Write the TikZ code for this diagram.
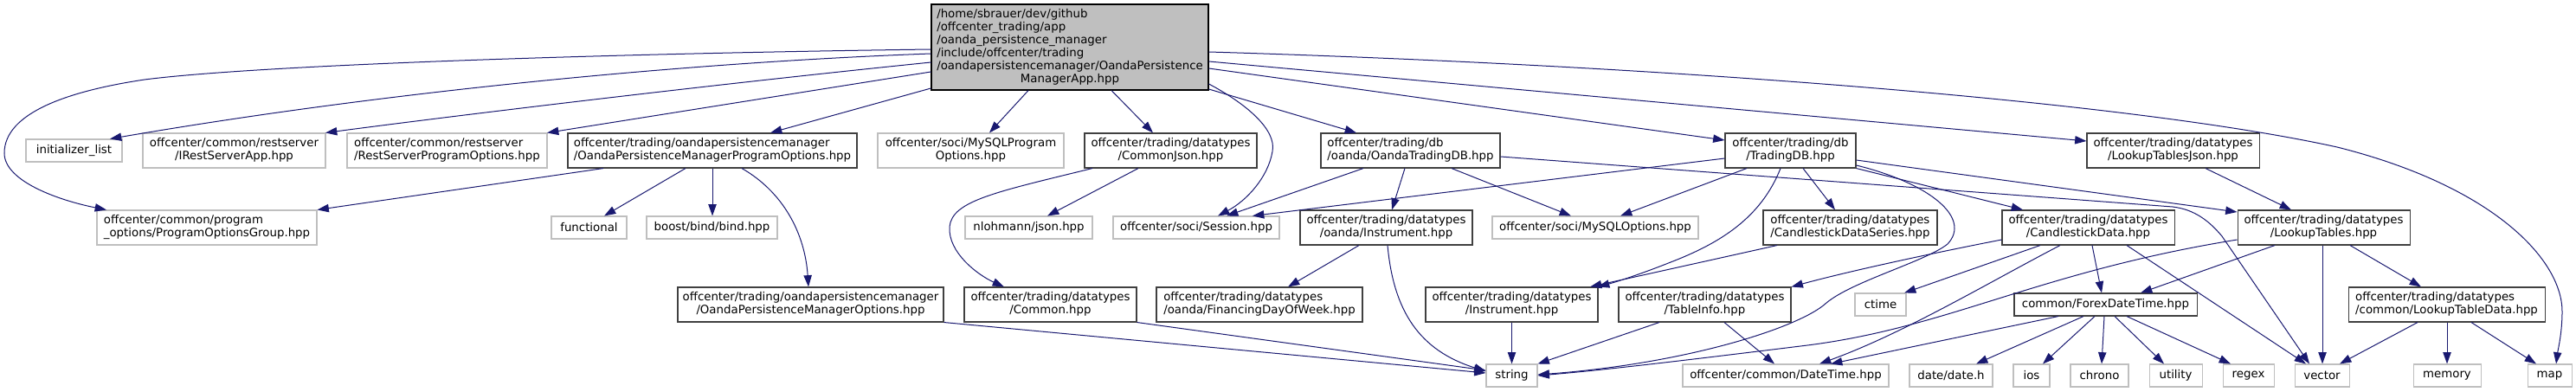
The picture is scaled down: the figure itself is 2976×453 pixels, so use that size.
\documentclass[tikz,border=0pt]{standalone}
\usepackage{fontspec}
\setmainfont{DejaVu Sans}
\usetikzlibrary{arrows.meta}
\definecolor{edgeblue}{HTML}{191970}
\definecolor{grayborder}{HTML}{BFBFBF}
\definecolor{darkborder}{HTML}{404040}
\definecolor{rootfill}{HTML}{BFBFBF}
\newcommand{\twoline}[2]{\begin{tabular}{@{}l@{}}#1\\\multicolumn{1}{@{}c@{}}{#2}\end{tabular}}
\begin{document}
\begin{tikzpicture}[x=0.75pt,y=-0.75pt,
  base/.style={rectangle, inner sep=0pt, fill=white, font=\fontsize{10}{11.25}\selectfont, line width=0.8pt},
  gsingle/.style={base, draw=grayborder, minimum width={#1*0.75pt}, minimum height=19.5pt},
  gdouble/.style={base, draw=grayborder, minimum width={#1*0.75pt}, minimum height=30pt},
  bsingle/.style={base, draw=darkborder, minimum width={#1*0.75pt}, minimum height=19.5pt},
  bdouble/.style={base, draw=darkborder, minimum width={#1*0.75pt}, minimum height=30pt},
  rootbox/.style={base, draw=black, fill=rootfill, minimum width=240pt, minimum height=74.25pt},
  edge/.style={draw=edgeblue, line width=0.75pt, -{Triangle[length=10pt,width=7pt]}}
]
\useasboundingbox (0,0) rectangle (2976,453);

% root
\node[rootbox] (root) at (1236,54.5) {\begin{tabular}{@{}l@{}}/home/sbrauer/dev/github\\/offcenter\_trading/app\\/oanda\_persistence\_manager\\/include/offcenter/trading\\/oandapersistencemanager/OandaPersistence\\\multicolumn{1}{@{}c@{}}{ManagerApp.hpp}\end{tabular}};

% row 1
\node[gsingle=111] (init) at (85.5,174) {initializer\_list};
\node[gdouble=211] (irest) at (270.5,174) {\twoline{offcenter/common/restserver}{/IRestServerApp.hpp}};
\node[gdouble=231] (rspo) at (516.5,174) {\twoline{offcenter/common/restserver}{/RestServerProgramOptions.hpp}};
\node[bdouble=334] (opmpo) at (823,174) {\twoline{offcenter/trading/oandapersistencemanager}{/OandaPersistenceManagerProgramOptions.hpp}};
\node[gdouble=215] (msqlpo) at (1121.5,174) {\twoline{offcenter/soci/MySQLProgram}{Options.hpp}};
\node[bdouble=199] (cjson) at (1352.5,174) {\twoline{offcenter/trading/datatypes}{/CommonJson.hpp}};
\node[bdouble=207] (otdb) at (1629.5,174) {\twoline{offcenter/trading/db}{/oanda/OandaTradingDB.hpp}};
\node[bdouble=151] (tdb) at (2068.5,174) {\twoline{offcenter/trading/db}{/TradingDB.hpp}};
\node[bdouble=199] (ltjson) at (2510.5,174) {\twoline{offcenter/trading/datatypes}{/LookupTablesJson.hpp}};

% row 2
\node[gdouble=254] (pog) at (239,263) {\twoline{offcenter/common/program}{\_options/ProgramOptionsGroup.hpp}};
\node[gsingle=87] (func) at (680.5,263) {functional};
\node[gsingle=151] (boost) at (822.5,263) {boost/bind/bind.hpp};
\node[gsingle=147] (nlohmann) at (1188.5,263) {nlohmann/json.hpp};
\node[gsingle=192] (session) at (1382,263) {offcenter/soci/Session.hpp};
\node[bdouble=199] (oinst) at (1601.5,263) {\twoline{offcenter/trading/datatypes}{/oanda/Instrument.hpp}};
\node[gsingle=238] (mysqlopt) at (1843,263) {offcenter/soci/MySQLOptions.hpp};
\node[bdouble=201] (cdseries) at (2137.5,263) {\twoline{offcenter/trading/datatypes}{/CandlestickDataSeries.hpp}};
\node[bdouble=199] (cdata) at (2412.5,263) {\twoline{offcenter/trading/datatypes}{/CandlestickData.hpp}};
\node[bdouble=199] (lookup) at (2684.5,263) {\twoline{offcenter/trading/datatypes}{/LookupTables.hpp}};

% row 3
\node[bdouble=307] (opmo) at (936.5,352) {\twoline{offcenter/trading/oandapersistencemanager}{/OandaPersistenceManagerOptions.hpp}};
\node[bdouble=199] (common) at (1213.5,352) {\twoline{offcenter/trading/datatypes}{/Common.hpp}};
\node[bdouble=238] (finday) at (1455,352) {\twoline{offcenter/trading/datatypes}{/oanda/FinancingDayOfWeek.hpp}};
\node[bdouble=199] (inst) at (1746.5,352) {\twoline{offcenter/trading/datatypes}{/Instrument.hpp}};
\node[bdouble=199] (tinfo) at (1969.5,352) {\twoline{offcenter/trading/datatypes}{/TableInfo.hpp}};
\node[gsingle=59] (ctime) at (2172.5,352) {ctime};
\node[bsingle=211] (forex) at (2432.5,352) {common/ForexDateTime.hpp};
\node[bdouble=227] (ltdata) at (2826.5,352) {\twoline{offcenter/trading/datatypes}{/common/LookupTableData.hpp}};

% row 4
\node[gsingle=59] (string) at (1746.5,434) {string};
\node[gsingle=238] (datetime) at (2063,434) {offcenter/common/DateTime.hpp};
\node[gsingle=96] (date) at (2254,434) {date/date.h};
\node[gsingle=42] (ios) at (2347,434) {ios};
\node[gsingle=67] (chrono) at (2425.5,434) {chrono};
\node[gsingle=61] (utility) at (2513.5,434) {utility};
\node[gsingle=59] (regex) at (2597.5,434) {regex};
\node[gsingle=63] (vector) at (2682.5,434) {vector};
\node[gsingle=78] (memory) at (2827,434) {memory};
\node[gsingle=51] (map) at (2945.5,434) {map};

% edges from root
\draw[edge] (root.west |- 0,57) .. controls (700,62) and (300,75) .. (167,92) .. controls (80,105) and (5,130) .. (5,177) .. controls (5,210) and (70,232) .. (pog.north -| 123,0);
\draw[edge] (root.west |- 0,62) .. controls (800,72) and (450,105) .. (init.north -| 127,0);
\draw[edge] (root.west |- 0,72) .. controls (800,100) and (500,137) .. (irest.north -| 376,0);
\draw[edge] (root.west |- 0,83) -- (rspo.north -| 632,0);
\draw[edge] (root.west |- 0,102) -- (opmpo.north -| 890,0);
\draw[edge] (root.south -| 1188,0) -- (msqlpo.north -| 1143,0);
\draw[edge] (root.south -| 1284,0) -- (cjson.north -| 1332,0);
\draw[edge] (root.east |- 0,97) .. controls (1440,120) and (1475,150) .. (1470,175) .. controls (1465,205) and (1440,232) .. (session.north -| 1407,0);
\draw[edge] (root.east |- 0,103) -- (otdb.north -| 1567,0);
\draw[edge] (root.east |- 0,79) -- (tdb.west |- 0,162);
\draw[edge] (root.east |- 0,71) -- (ltjson.west |- 0,163);
\draw[edge] (root.east |- 0,60) .. controls (1900,75) and (2450,115) .. (2700,170) .. controls (2880,215) and (2960,300) .. (2960,360) .. controls (2960,385) and (2955,405) .. (map.north -| 2953,0);

% OandaPersistenceManagerProgramOptions
\draw[edge] (opmpo.south -| 697,0) -- (pog.north east);
\draw[edge] (opmpo.south -| 792,0) -- (func.north -| 698,0);
\draw[edge] (opmpo.south -| 823,0) -- (boost.north -| 823,0);
\draw[edge] (opmpo.south -| 857,0) .. controls (905,222) and (930,270) .. (opmo.north -| 934,0);
\draw[edge] (opmo.south east) -- (string.west |- 0,431);

% CommonJson
\draw[edge] (cjson.south -| 1262,0) .. controls (1150,222) and (1100,232) .. (1097,262) .. controls (1095,292) and (1130,318) .. (common.north -| 1160,0);
\draw[edge] (cjson.south -| 1315,0) -- (nlohmann.north -| 1210,0);
\draw[edge] (common.south east) -- (string.west |- 0,428);

% OandaTradingDB
\draw[edge] (otdb.south -| 1575,0) -- (session.north -| 1417,0);
\draw[edge] (otdb.south -| 1623,0) -- (oinst.north -| 1608,0);
\draw[edge] (otdb.south -| 1677,0) -- (mysqlopt.north -| 1815,0);
\draw[edge] (otdb.east |- 0,181) -- (2510,239) .. controls (2535,242) and (2552,255) .. (2567,273) -- (vector.north -| 2668,0);

% oanda/Instrument
\draw[edge] (oinst.south -| 1570,0) -- (finday.north -| 1488,0);
\draw[edge] (oinst.south -| 1603,0) .. controls (1610,360) and (1640,405) .. (string.west |- 0,429);

% TradingDB
\draw[edge] (tdb.west |- 0,183) -- (session.north -| 1447,0);
\draw[edge] (tdb.south -| 2018,0) -- (mysqlopt.north -| 1872,0);
\draw[edge] (tdb.south -| 2057,0) .. controls (2035,250) and (1990,280) .. (1930,303) .. controls (1900,315) and (1870,325) .. (inst.north -| 1846,0);
\draw[edge] (tdb.south -| 2083,0) -- (cdseries.north -| 2120,0);
\draw[edge] (tdb.south east) -- (cdata.north -| 2337,0);
\draw[edge] (tdb.east |- 0,185) -- (lookup.west |- 0,245);
\draw[edge] (tdb.east |- 0,191) .. controls (2230,212) and (2278,252) .. (2250,282) .. controls (2225,302) and (2140,325) .. (2110,350) .. controls (2080,378) and (1950,420) .. (string.east |- 0,433);

% CandlestickDataSeries
\draw[edge] (cdseries.south -| 2053,0) -- (inst.north -| 1837,0);

% CandlestickData
\draw[edge] (cdata.west |- 0,277) .. controls (2220,295) and (2130,315) .. (tinfo.north east);
\draw[edge] (cdata.south -| 2357,0) -- (ctime.north -| 2200,0);
\draw[edge] (cdata.south -| 2380,0) .. controls (2300,325) and (2200,385) .. (datetime.north -| 2102,0);
\draw[edge] (cdata.south -| 2417,0) -- (forex.north -| 2428,0);
\draw[edge] (cdata.south -| 2457,0) -- (vector.north -| 2664,0);

% LookupTables
\draw[edge] (ltjson.south -| 2548,0) -- (lookup.north -| 2647,0);
\draw[edge] (lookup.west |- 0,277) .. controls (2350,315) and (2250,380) .. (2080,400) .. controls (1950,416) and (1850,428) .. (string.east |- 0,434);
\draw[edge] (lookup.south -| 2628,0) -- (forex.north -| 2473,0);
\draw[edge] (lookup.south -| 2683,0) -- (vector.north -| 2683,0);
\draw[edge] (lookup.south -| 2715,0) -- (ltdata.north -| 2797,0);

% LookupTableData
\draw[edge] (ltdata.south -| 2793,0) -- (vector.north -| 2703,0);
\draw[edge] (ltdata.south -| 2827,0) -- (memory.north -| 2827,0);
\draw[edge] (ltdata.south -| 2855,0) -- (map.north -| 2930,0);

% ForexDateTime
\draw[edge] (forex.south -| 2378,0) -- (datetime.north -| 2115,0);
\draw[edge] (forex.south -| 2407,0) -- (date.north -| 2283,0);
\draw[edge] (forex.south -| 2420,0) -- (ios.north -| 2360,0);
\draw[edge] (forex.south -| 2431,0) -- (chrono.north -| 2428,0);
\draw[edge] (forex.south -| 2443,0) -- (utility.north -| 2500,0);
\draw[edge] (forex.south -| 2457,0) -- (regex.north -| 2577,0);

% TableInfo / Instrument
\draw[edge] (tinfo.south -| 1917,0) -- (string.north east);
\draw[edge] (tinfo.south -| 1992,0) -- (datetime.north -| 2050,0);
\draw[edge] (inst.south) -- (string.north);
\end{tikzpicture}
\end{document}
